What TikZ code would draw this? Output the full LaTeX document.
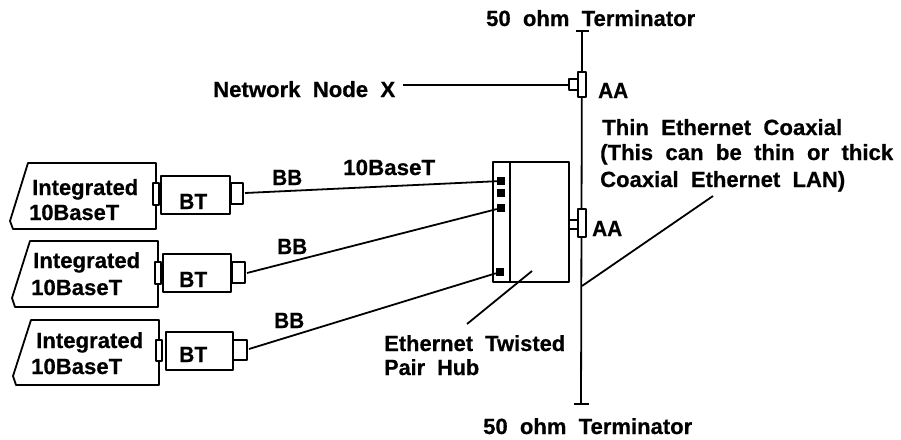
\documentclass[tikz,border=0pt]{standalone}
\usepackage{fontspec}
\usepackage{graphicx}
\setmainfont{Liberation Sans}[BoldFeatures={FakeBold=0.6}]
\newcommand{\fitw}[2]{\resizebox{#1pt}{\height}{#2}}
\tikzset{
  px/.style={x=1pt,y=-1pt},
  ln/.style={line width=1.8pt,black},
  lbl/.style={font=\bfseries\fontsize{22}{24}\selectfont,inner sep=0,anchor=base west,align=left},
  port/.style={fill=black,draw=none,inner sep=0,minimum size=8pt,rectangle},
}
\begin{document}
\begin{tikzpicture}[px,line join=round]
\useasboundingbox (0,0) rectangle (901,439);
\coordinate (wa) at (245,193);
\coordinate (wb) at (247,273);
\coordinate (wc) at (249,349);
\coordinate (p1) at (532,271);
\coordinate (p2) at (467,324);
\coordinate (q1) at (582,286);
\coordinate (q2) at (713,196);
\coordinate (nx) at (403,85);
% devices
\draw[ln] (28,163) -- (156,163) -- (156,229) -- (13,229) -- (10,221) -- cycle;
\draw[ln] (30,241) -- (158,241) -- (158,307) -- (15,307) -- (12,298) -- cycle;
\draw[ln] (31,320) -- (159,320) -- (159,385) -- (16,385) -- (13,376) -- cycle;
% connectors
\draw[ln,fill=white] (153,183) rectangle (159,205);
\draw[ln,fill=white] (155,262) rectangle (161,284);
\draw[ln,fill=white] (156,340) rectangle (162,361);
\draw[ln] (161,176) rectangle (230,214);
\draw[ln] (163,254) rectangle (231,292);
\draw[ln] (166,332) rectangle (233,370);
\draw[ln] (231,183) rectangle (243,204);
\draw[ln] (232,262) rectangle (245,283);
\draw[ln] (233,340) rectangle (247,360);
% hub
\draw[ln] (493,162) rectangle (569,282);
\draw[ln] (510,162) -- (510,282);
\node[port] (h1) at (501,181) {};
\node[port] (h2) at (501,193) {};
\node[port] (h3) at (501,208) {};
\node[port] (h4) at (500,272) {};
\draw[ln] (wa) -- (h1);
\draw[ln] (wb) -- (h3);
\draw[ln] (wc) -- (h4);
\draw[ln] (p1) -- (p2);
% coax
\draw[ln] (576,31) -- (589,31);
\draw[ln] (574,404) -- (589,404);
\draw[ln] (582,31) -- (581,404);
\draw[ln,fill=white] (578,72) rectangle (586,97);
\draw[ln,fill=white] (569,79) rectangle (578,90);
\draw[ln,fill=white] (578,209) rectangle (586,237);
\draw[ln,fill=white] (569,220) rectangle (578,229);
\draw[ln] (nx) -- (569,85);
\draw[ln] (q1) -- (q2);
% text
\node[lbl] (t1) at (486,26) {\fitw{209}{50\ \ ohm\ \ Terminator}};
\node[lbl] (t2) at (483,434) {\fitw{209}{50\ \ ohm\ \ Terminator}};
\node[lbl] (t3) at (213,97) {\fitw{182}{Network\ \ Node\ \ X}};
\node[lbl] (t4) at (598,98) {\fitw{30}{AA}};
\node[lbl] (t5) at (592,236) {\fitw{30}{AA}};
\node[lbl] (t6) at (602,135) {\fitw{240}{Thin\ \ Ethernet\ \ Coaxial}};
\node[lbl] (t7) at (600,160) {\fitw{293}{(This\ \ can\ \ be\ \ thin\ \ or\ \ thick}};
\node[lbl] (t8) at (600,187) {\fitw{245}{Coaxial\ \ Ethernet\ \ LAN)}};
\node[lbl] (t9) at (272,185) {\fitw{30}{BB}};
\node[lbl] (t10) at (343,175) {\fitw{92}{10BaseT}};
\node[lbl] (t11) at (277,254) {\fitw{30}{BB}};
\node[lbl] (t12) at (274,328) {\fitw{30}{BB}};
\node[lbl] (t13) at (384,351) {\fitw{181}{Ethernet\ \ Twisted}};
\node[lbl] (t14) at (384,375) {\fitw{95}{Pair\ \ Hub}};
\node[lbl] (d1) at (32,195) {\fitw{106}{Integrated}};
\node[lbl] (d2) at (29,220) {\fitw{90}{10BaseT}};
\node[lbl] (d3) at (33,268) {\fitw{107}{Integrated}};
\node[lbl] (d4) at (31,295) {\fitw{91}{10BaseT}};
\node[lbl] (d5) at (36,348) {\fitw{107}{Integrated}};
\node[lbl] (d6) at (31,374) {\fitw{91}{10BaseT}};
\node[lbl] (b1) at (179,209) {\fitw{28}{BT}};
\node[lbl] (b2) at (179,287) {\fitw{28}{BT}};
\node[lbl] (b3) at (179,362) {\fitw{28}{BT}};
\end{tikzpicture}
\end{document}
